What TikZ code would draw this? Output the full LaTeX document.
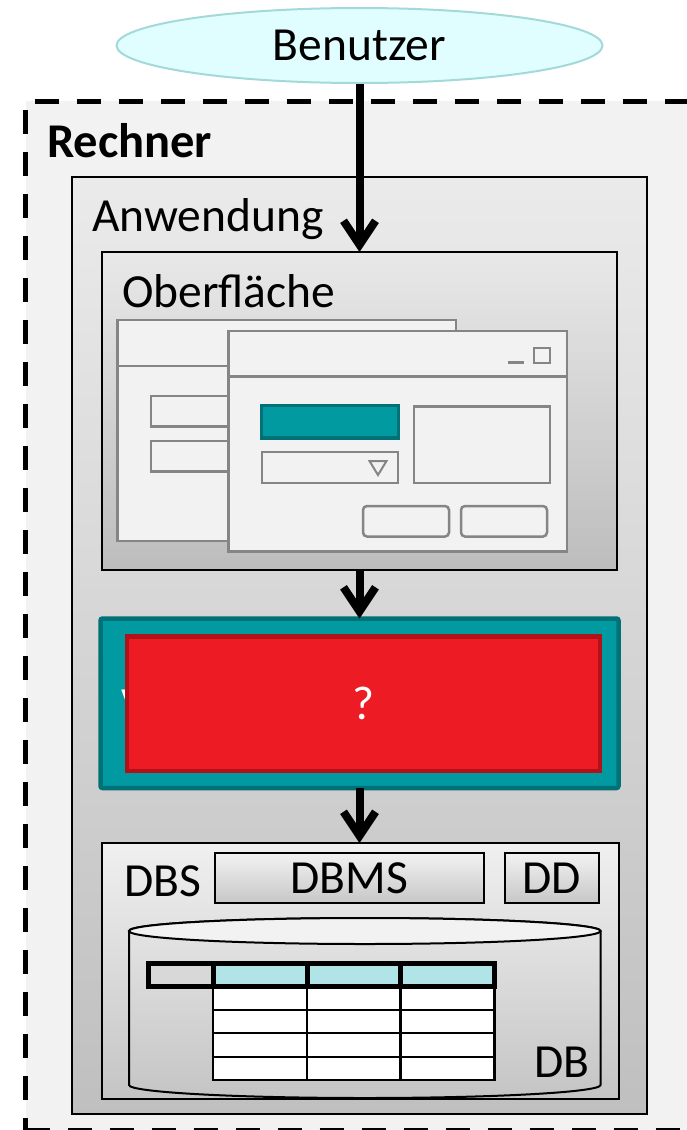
\documentclass[tikz,border=0pt]{standalone}
\usepackage{fontspec}
\setmainfont{Carlito}
\usepackage{xcolor}
\usepackage{tikz}
\usetikzlibrary{arrows.meta,shapes,calc}

\definecolor{benutzerfill}{HTML}{E0FEFF}
\definecolor{benutzerline}{HTML}{A3D9D9}
\definecolor{rechnergray}{HTML}{F2F2F2}
\definecolor{wingray}{HTML}{858585}
\definecolor{tealfill}{HTML}{009AA0}
\definecolor{tealline}{HTML}{007277}
\definecolor{redfill}{HTML}{ED1C24}
\definecolor{redline}{HTML}{B3111A}
\definecolor{headcyan}{HTML}{B0E4E6}
\definecolor{headgray}{HTML}{D8D8D8}

\newcommand\bigfont{\fontsize{47.5}{56}\selectfont}

\begin{document}
\begin{tikzpicture}[x=1pt,y=-1pt]
            \tikzset{rechnerbox/.style = {draw, line width=5pt, dash pattern=on 24pt off 18pt, fill=rechnergray, outer sep=0pt}}
            \tikzset{layerbox/.style = {draw, line width=2pt, outer sep=0pt, anchor=north west}}
            \tikzset{boxtitle/.style = {anchor=base west, inner sep=0pt, font=\bigfont}}
            \tikzset{win/.style = {draw=wingray, line width=2.5pt, fill=rechnergray}}
            \tikzset{flow/.style = {line width=8pt, -{Straight Barb[length=24pt,width=32pt,line width=8pt]}}}
            \useasboundingbox (0,0) rectangle (686,1130);

            % boxes
            \node[ellipse, draw=benutzerline, fill=benutzerfill, line width=2pt, minimum width=486pt, minimum height=75pt, font=\bigfont] (benutzer) at (359.5,45.5) {Benutzer};
            \node[rechnerbox, anchor=north west, minimum width=720pt, minimum height=1029pt] (rechner) at (25.5,101) {};
            \node[boxtitle, font=\fontsize{48.5}{56}\selectfont\bfseries] (rechnerlbl) at (47,157) {Rechner};
            \node[layerbox, top color=black!8, bottom color=black!25, minimum width=575.5pt, minimum height=937.5pt] (anwendung) at (71.7,176.7) {};
            \node[boxtitle] (anwendunglbl) at (92,231) {Anwendung};
            \node[layerbox, line width=2.5pt, top color=black!9, bottom color=black!26, minimum width=515pt, minimum height=318pt] (oberflaeche) at (102,252) {};
            \node[boxtitle] (oberflaechelbl) at (122,307) {Oberfläche};

            % windows
            \draw[win] (117.5,320) rectangle (456,541);
            \draw[win] (117.5,366) -- (456,366);
            \foreach \y in {396,441}
            {
              \draw[win] (151,\y) rectangle (300,{\y+30.5});
            }
            \draw[win] (228.5,331) rectangle (567,551.5);
            \draw[win] (228.5,376.5) -- (567,376.5);
            \draw[wingray, line width=3pt] (508,362) -- (524,362);
            \draw[win] (534,348) rectangle (550,363);
            \draw[draw=tealline, fill=tealfill, line width=3.5pt] (261.5,405.5) rectangle (398.5,438);
            \draw[win] (262,452) rectangle (398,483);
            \draw[wingray, line width=2pt] (369.5,461) -- (386.5,461) -- (378,475) -- cycle;
            \draw[win] (414,406.5) rectangle (550,483);
            \foreach \x in {363,461}
            {
              \draw[win, rounded corners=4pt] (\x,506) rectangle ({\x+86},536.5);
            }

            \node[layerbox, draw=tealline, fill=tealfill, line width=4.5pt, rounded corners=2pt, minimum width=518pt, minimum height=169.5pt] (verarbeitung) at (100.5,618.5) {};
            \node[boxtitle, text=white] (verarbeitunglbl) at (121,720) {V};
            \node[draw=redline, fill=redfill, line width=4.5pt, minimum width=473pt, minimum height=134.5pt, text=white, font=\bigfont] (unklar) at (363.5,703.5) {?};

            \node[layerbox, top color=black!6, bottom color=black!23, minimum width=517pt, minimum height=256pt] (dbs) at (102,843) {};
            \node[boxtitle] (dbslbl) at (124,896) {DBS};
            \node[layerbox, top color=black!5, bottom color=black!22, minimum width=268.5pt, minimum height=50pt, font=\bigfont] (dbms) at (215,853) {};
            \node[font=\bigfont] (dbmslbl) at (dbms.center) {DBMS};
            \node[layerbox, top color=black!5, bottom color=black!22, minimum width=94pt, minimum height=50pt] (dd) at (505,853) {};
            \node[font=\bigfont] (ddlbl) at (dd.center) {DD};

            % database
            \shade[draw, line width=2pt, top color=black!10, bottom color=black!23] (129,931) -- (129,1085) arc[start angle=180, end angle=0, x radius=235.75, y radius=13] -- (600.5,931) arc[start angle=0, end angle=-180, x radius=235.75, y radius=13] -- cycle;
            \draw[line width=2pt, fill=black!5] (364.75,931) ellipse[x radius=235.75, y radius=13];
            \draw[line width=2.5pt, fill=white] (213,986) rectangle (494.5,1080);
            \foreach \y in {1010,1033,1057} {\draw[line width=2.5pt] (213,\y) -- (494.5,\y);}
            \foreach \x in {307,400.5} {\draw[line width=2.5pt] (\x,986) -- (\x,1080);}
            \fill[headgray] (148,963.5) rectangle (213,986);
            \foreach \x in {213,307,400.5} {\fill[headcyan] (\x,963.5) rectangle ({\x+94},986);}
            \draw[line width=5pt] (148,963.5) rectangle (494.5,986);
            \foreach \x in {213,307,400.5} {\draw[line width=5pt] (\x,963.5) -- (\x,986);}
            \node[boxtitle] (dblbl) at (534,1077) {DB};

            % flow
            \draw[flow] (benutzer.south) -- (oberflaeche.north);
            \draw[flow] (oberflaeche.south) -- (verarbeitung.north);
            \draw[flow] (verarbeitung.south) -- (verarbeitung.south |- dbs.north);

          \end{tikzpicture}
\end{document}
